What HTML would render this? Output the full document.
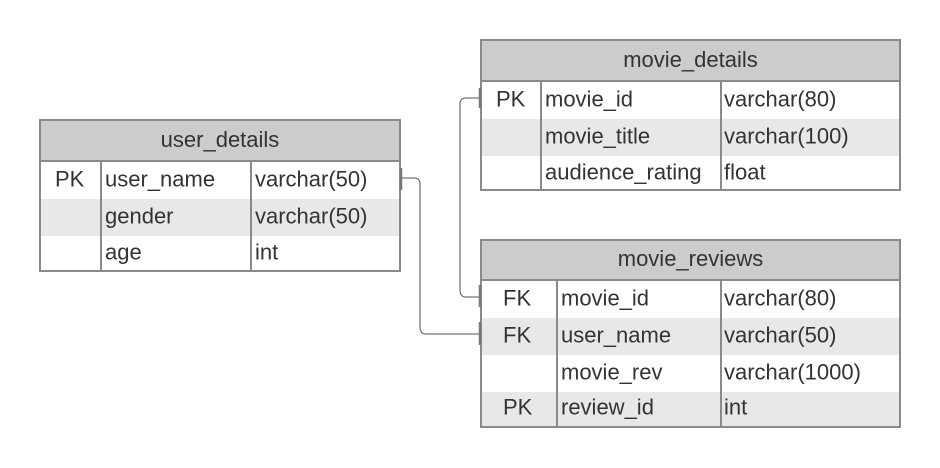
<!DOCTYPE html>
<html><head><style>
body{margin:0;width:940px;height:468px;background:#fff;font-family:"Liberation Sans",sans-serif;font-size:22px;color:#333;position:relative;overflow:hidden}
.t{position:absolute;border:2px solid #8a8a8a;box-sizing:border-box;background:#fff}
.h{background:#cccccc;text-align:center;border-bottom:2px solid #8a8a8a;box-sizing:border-box}
.r{position:relative;box-sizing:border-box}
.r span{position:absolute;top:50%;transform:translateY(-55%)}
.g{background:#e8e8e8}
.v{position:absolute;top:0;bottom:0;border-left:2px solid #8a8a8a}
</style></head><body>
<div class="t" style="left:480px;top:39px;width:421px;height:152px">
<div class="h" style="height:41px;line-height:37px">movie_details</div>
<div style="position:relative">
<div class="r" style="height:37px"><span style="left:14px">PK</span><span style="left:63px">movie_id</span><span style="left:242px">varchar(80)</span></div>
<div class="r g" style="height:37px"><span style="left:63px">movie_title</span><span style="left:242px">varchar(100)</span></div>
<div class="r" style="height:35px"><span style="left:63px">audience_rating</span><span style="left:242px">float</span></div>
<div class="v" style="left:58px"></div><div class="v" style="left:238px"></div>
</div></div>
<div class="t" style="left:39px;top:119px;width:362px;height:153px">
<div class="h" style="height:41px;line-height:37px">user_details</div>
<div style="position:relative">
<div class="r" style="height:37px"><span style="left:14px">PK</span><span style="left:64px">user_name</span><span style="left:214px">varchar(50)</span></div>
<div class="r g" style="height:37px"><span style="left:64px">gender</span><span style="left:214px">varchar(50)</span></div>
<div class="r" style="height:36px"><span style="left:64px">age</span><span style="left:214px">int</span></div>
<div class="v" style="left:59px"></div><div class="v" style="left:209px"></div>
</div></div>
<div class="t" style="left:480px;top:239px;width:421px;height:189px">
<div class="h" style="height:40px;line-height:36px">movie_reviews</div>
<div style="position:relative">
<div class="r" style="height:37px"><span style="left:21px">FK</span><span style="left:79px">movie_id</span><span style="left:242px">varchar(80)</span></div>
<div class="r g" style="height:37px"><span style="left:21px">FK</span><span style="left:79px">user_name</span><span style="left:242px">varchar(50)</span></div>
<div class="r" style="height:37px"><span style="left:79px">movie_rev</span><span style="left:242px">varchar(1000)</span></div>
<div class="r g" style="height:34px"><span style="left:21px">PK</span><span style="left:79px">review_id</span><span style="left:242px">int</span></div>
<div class="v" style="left:74px"></div><div class="v" style="left:238px"></div>
</div></div>
<svg width="940" height="468" style="position:absolute;left:0;top:0" fill="none" stroke="#777" stroke-width="1.3">
<path d="M480 98 H466 Q460 98 460 104 V290 Q460 297 466 297 H480"/>
<path d="M401 178 H414 Q420 178 420 184 V327 Q420 334 426 334 H480"/>
<g stroke-width="2.5"><path d="M480 88V108M480 285V307M480 322V345M401 168V190"/></g>
</svg>
</body></html>
